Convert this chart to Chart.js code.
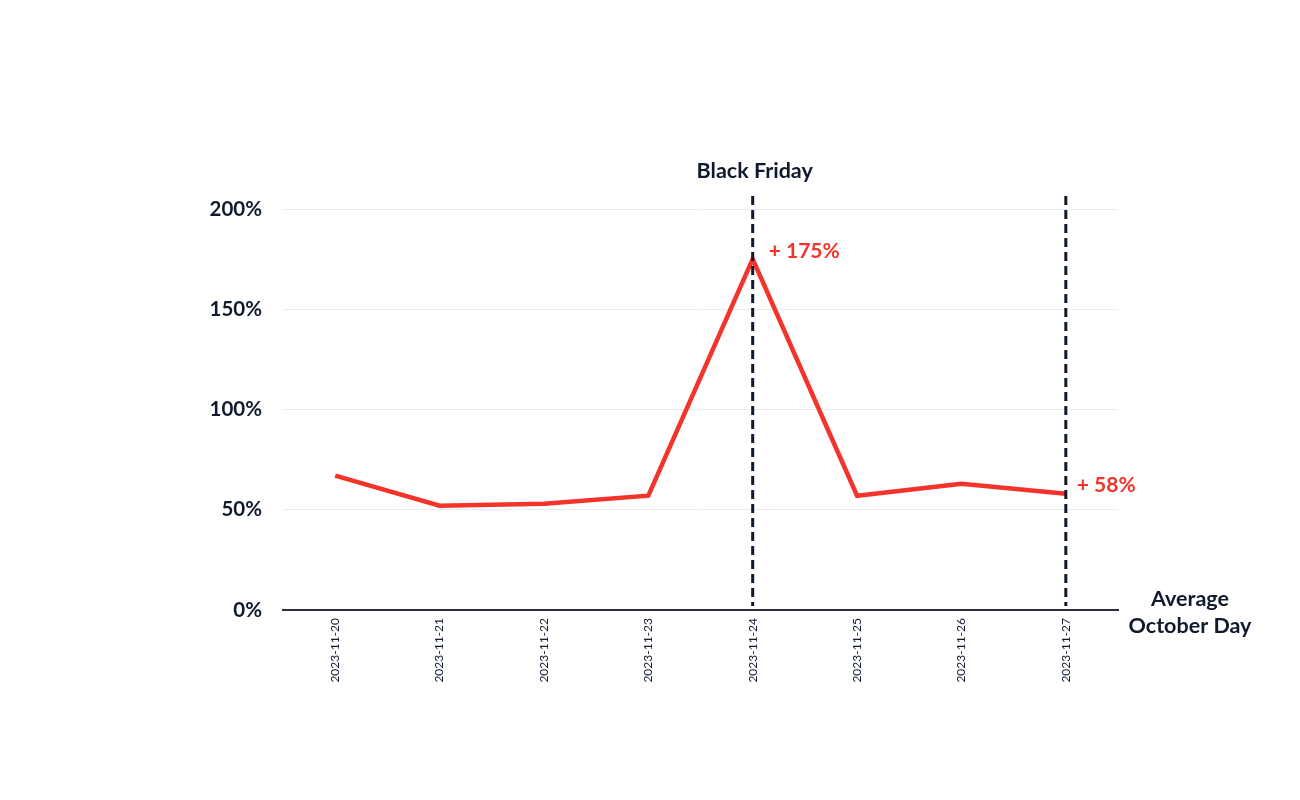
<!DOCTYPE html>
<html>
<head>
<meta charset="utf-8">
<script src="https://cdn.jsdelivr.net/npm/chart.js@4"></script>
<style>
  html, body { margin: 0; padding: 0; background: #fff; }
  #wrap { width: 1300px; height: 800px; }
</style>
</head>
<body>
<div id="wrap"><canvas id="chart" width="1300" height="800"></canvas></div>
<script>
const days = ['2023-11-20', '2023-11-21', '2023-11-22', '2023-11-23', '2023-11-24', '2023-11-25', '2023-11-26', '2023-11-27'];
const uplift = [67, 52, 53, 57, 175, 57, 63, 58];
const yTicks = [0, 50, 100, 150, 200];
const markedDays = ['2023-11-24', '2023-11-27'];
const markedLabels = ['+ 175%', '+ 58%'];

const navy = '#0f1a2e';
const red = '#f4332a';

// dashed markers, labels and the baseline caption
const annotations = {
    id: 'annotations',
    afterDatasetsDraw(chart) {
        const ctx = chart.ctx;
        const x = chart.scales.x;
        const y = chart.scales.y;
        const area = chart.chartArea;
        ctx.save();

        markedDays.forEach(function (d, i) {
            const idx = days.indexOf(d);
            const px = x.getPixelForValue(idx);
            const py = y.getPixelForValue(uplift[idx]);
            ctx.strokeStyle = navy;
            ctx.lineWidth = 3;
            ctx.setLineDash([9, 5]);
            ctx.beginPath();
            ctx.moveTo(px, area.top - 13);
            ctx.lineTo(px, area.bottom - 4);
            ctx.stroke();
            ctx.setLineDash([]);

            ctx.fillStyle = red;
            ctx.font = 'bold 21px Lato';
            ctx.textAlign = 'left';
            ctx.textBaseline = 'middle';
            ctx.fillText(markedLabels[i], px + (i === 0 ? 16 : 11), py - 8);
        });

        const bf = x.getPixelForValue(days.indexOf(markedDays[0]));
        ctx.fillStyle = navy;
        ctx.font = 'bold 21.5px Lato';
        ctx.textAlign = 'center';
        ctx.textBaseline = 'middle';
        ctx.fillText('Black Friday', bf + 2, area.top - 38);

        ctx.fillText('Average', area.right + 72, area.bottom - 11);
        ctx.fillText('October Day', area.right + 72, area.bottom + 16);
        ctx.restore();
    }
};

new Chart(document.getElementById('chart'), {
    type: 'line',
    data: {
        labels: days,
        datasets: [{
            data: uplift,
            borderColor: red,
            borderWidth: 4.5,
            pointRadius: 0,
            tension: 0,
            fill: false
        }]
    },
    options: {
        responsive: false,
        animation: false,
        layout: { padding: { top: 209, right: 182, left: 0, bottom: 0 } },
        plugins: { legend: { display: false }, tooltip: { enabled: false } },
        scales: {
            x: {
                offset: true,
                grid: { display: false, drawTicks: false },
                border: { display: true, color: '#2a2f3a', width: 2 },
                ticks: {
                    minRotation: 90,
                    maxRotation: 90,
                    padding: 8,
                    color: navy,
                    font: { family: 'Lato', size: 12 }
                },
                afterFit: function (scale) { scale.height = 190; }
            },
            y: {
                min: 0,
                max: 200,
                afterBuildTicks: function (scale) {
                    scale.ticks = yTicks.map(function (v) { return { value: v }; });
                },
                grid: { color: '#ebebeb', lineWidth: 1, drawTicks: false },
                border: { display: false },
                ticks: {
                    padding: 21,
                    color: navy,
                    font: { family: 'Lato', size: 20.5, weight: 'bold' },
                    callback: function (v) { return v + '%'; }
                },
                afterFit: function (scale) { scale.width = 283; }
            }
        }
    },
    plugins: [annotations]
});
</script>
</body>
</html>
